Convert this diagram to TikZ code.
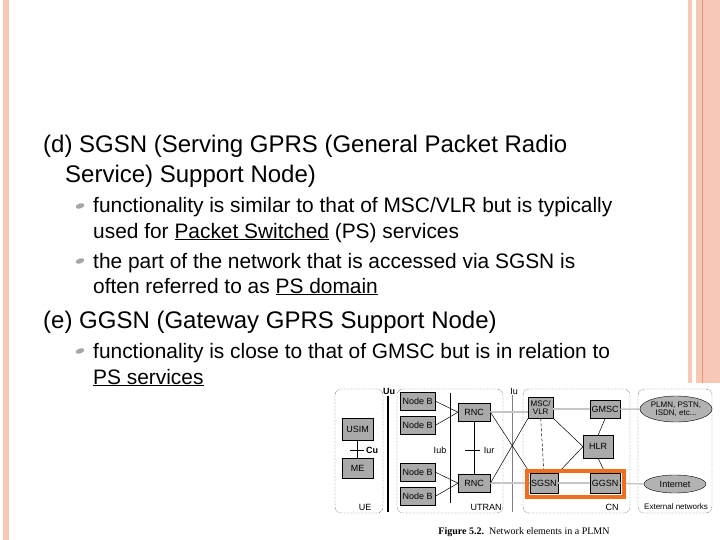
\documentclass[tikz,border=0pt]{standalone}
\usepackage{fontspec}
\setmainfont{Liberation Sans}
\newfontfamily\capfont{Liberation Serif}
\usetikzlibrary{shapes.geometric}
\definecolor{stripe}{RGB}{248,200,182}
\definecolor{stripeD}{RGB}{225,150,120}
\definecolor{orng}{RGB}{240,110,30}
\definecolor{boxg}{RGB}{170,170,170}
\begin{document}
\begin{tikzpicture}[x=1pt,y=-1pt,
  big/.style={anchor=base west,font=\fontsize{24}{24}\selectfont,inner sep=0},
  sml/.style={anchor=base west,font=\fontsize{20.9}{20.9}\selectfont,inner sep=0},
  bul/.style={fill=gray!70,ellipse,minimum width=9pt,minimum height=5pt,inner sep=0,rotate=20},
  el/.style={draw,fill=boxg,font=\fontsize{9}{9}\selectfont,inner sep=1pt,anchor=north west},
  area/.style={draw,densely dotted,rounded corners=6pt},
  lab/.style={font=\fontsize{9}{9}\selectfont,inner sep=0},
  thin/.style={line width=0.5pt},
  gl/.style={draw=gray!45,line width=1.5pt}]
\useasboundingbox (0,0) rectangle (720,540);
\fill[white] (0,0) rectangle (720,540);
% border stripes
\fill[stripe] (3,0) rectangle (9,540);
\fill[stripe] (688,0) rectangle (692,540);
\fill[stripe] (696,0) rectangle (720,540);
\draw[stripeD,line width=0.8pt] (702,0) -- (702,540);
% text
\node[big] (t1) at (43,153) {(d) SGSN (Serving GPRS (General Packet Radio};
\node[big] (t2) at (65,183) {Service) Support Node)};
\node[bul] (b1) at (80,206) {};
\node[sml] (t3) at (93,213) {functionality is similar to that of MSC/VLR but is typically};
\node[sml] (t4) at (93,238) {used for \underline{Packet Switched} (PS) services};
\node[bul] (b2) at (80,261) {};
\node[sml] (t5) at (93,268) {the part of the network that is accessed via SGSN is};
\node[sml] (t6) at (93,293) {often referred to as \underline{PS domain}};
\node[big] (t7) at (43,328) {(e) GGSN (Gateway GPRS Support Node)};
\node[bul] (b3) at (80,351) {};
\node[sml] (t8) at (93,358) {functionality is close to that of GMSC but is in relation to};
\node[sml] (t9) at (93,384) {\underline{PS services}};
% figure
\fill[white] (335,383) rectangle (720,540);
\draw[area] (335,389) rectangle (383,513);
\draw[area] (397,389) rectangle (503,513);
\draw[area] (523,389) rectangle (630,513);
\draw[area] (638,389) rectangle (712,513);
\node[lab] (lue) at (365,507) {UE};
\node[lab] (lut) at (486,507) {UTRAN};
\node[lab] (lcn) at (612,507) {CN};
\node[lab,font=\fontsize{8}{8}\selectfont] (lex) at (676,507) {External networks};
\draw[line width=1.6pt] (388,396) -- (388,512);
\node[lab,font=\bfseries\fontsize{9}{9}\selectfont] (luu) at (389,391) {Uu};
\draw[thin] (450,393) -- (450,503);
\node[lab] (liub) at (440,450) {Iub};
\draw[thin,gray] (512,395) -- (512,512);
\node[lab] (liu) at (514,391) {Iu};
% UE
\node[el,minimum width=31pt,minimum height=22pt] (usim) at (342,418) {USIM};
\node[el,minimum width=31pt,minimum height=20pt] (me) at (342,458) {ME};
\draw[thin] (usim) -- (me);
\coordinate (cul) at (350,450); \coordinate (cur) at (364,450);
\draw[thin] (cul) -- (cur);
\node[lab,font=\bfseries\fontsize{9}{9}\selectfont] (lcu) at (372,450) {Cu};
% UTRAN
\node[el,minimum width=35pt,minimum height=18pt] (nb1) at (400,392) {Node B};
\node[el,minimum width=35pt,minimum height=18pt] (nb2) at (400,416) {Node B};
\node[el,minimum width=35pt,minimum height=18pt] (nb3) at (400,463) {Node B};
\node[el,minimum width=35pt,minimum height=18pt] (nb4) at (400,487) {Node B};
\node[el,minimum width=32pt,minimum height=18pt] (rnc1) at (458,403) {RNC};
\node[el,minimum width=32pt,minimum height=18pt] (rnc2) at (458,474) {RNC};
\foreach \n in {nb1,nb2} \draw[thin] (\n.east) -- (rnc1.west);
\foreach \n in {nb3,nb4} \draw[thin] (\n.east) -- (rnc2.west);
\draw[thin] (rnc1) -- (rnc2);
\coordinate (iul) at (465,450); \coordinate (iur) at (480,450);
\draw[thin] (iul) -- (iur);
\node[lab] (liur) at (489,450) {Iur};
% CN
\node[el,minimum width=25pt,minimum height=21pt,align=center,font=\fontsize{8}{8}\selectfont] (msc) at (528,397) {MSC/\\VLR};
\node[el,minimum width=30pt,minimum height=18pt] (gmsc) at (590,400) {GMSC};
\node[el,minimum width=30pt,minimum height=23pt] (hlr) at (583,435) {HLR};
\node[el,minimum width=27pt,minimum height=20pt] (sgsn) at (530,473) {SGSN};
\node[el,minimum width=30pt,minimum height=20pt] (ggsn) at (590,473) {GGSN};
\node[ellipse,draw,fill=gray!60,minimum width=72pt,minimum height=26pt,inner sep=0,align=center,font=\fontsize{8}{8}\selectfont] (plmn) at (676,409) {PLMN, PSTN,\\ISDN, etc...};
\node[ellipse,draw,fill=gray!60,minimum width=62pt,minimum height=18pt,inner sep=0,font=\fontsize{9}{9}\selectfont] (inet) at (675,484) {Internet};
% gray user-plane lines
\draw[gl] (rnc1.east) -- (msc.west |- rnc1.east);
\draw[gl] (msc.east |- gmsc.west) -- (gmsc.west);
\draw[gl] (gmsc.east) -- (plmn.west);
\draw[gl] (rnc2.east) -- (sgsn.west |- rnc2.east);
\draw[gl] (sgsn.east) -- (ggsn.west);
\draw[gl] (ggsn.east) -- (inet.west);
% signalling
\draw[thin] (rnc1.east) -- (sgsn.north west);
\draw[thin] (rnc2.east) -- (msc.south west);
\draw[thin,densely dashed] (msc.south) -- (sgsn.north);
\draw[thin] (msc.south east) -- (hlr.west);
\draw[thin] (hlr.west) -- (sgsn.north east);
\draw[thin] (hlr.north) -- (gmsc.south);
\draw[thin] (hlr.south) -- (ggsn.north);
\draw[draw=orng,line width=4pt] (527,471) rectangle (624,497);
\node[lab,font=\capfont\fontsize{10}{10}\selectfont] (cap) at (524,532) {\textbf{Figure 5.2.}\ \ Network elements in a PLMN};
\end{tikzpicture}
\end{document}
